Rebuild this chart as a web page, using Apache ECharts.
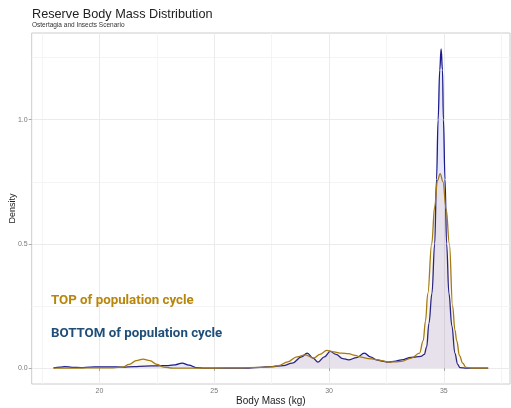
<!DOCTYPE html>
<html>
<head>
<meta charset="utf-8">
<script src="https://cdn.jsdelivr.net/npm/echarts@6/dist/echarts.min.js"></script>
<style>
  html, body { margin: 0; padding: 0; background: #fff; }
  #main { width: 511px; height: 408px; }
</style>
</head>
<body>
<div id="main"></div>
<script>
// bottom of population cycle (blue)
const bottomMass = [18.0, 18.3, 18.5, 18.8, 19.2, 19.6, 20.0, 20.5, 21.0, 21.5, 22.0, 22.5, 23.0, 23.3, 23.6, 23.9, 24.2, 24.6, 25.5, 26.5, 27.0, 27.5, 28.0, 28.4, 28.8, 29.05, 29.3, 29.52, 29.8, 30.05, 30.3, 30.6, 30.85, 31.2, 31.54, 31.8, 32.06, 32.3, 32.58, 32.9, 33.15, 33.58, 34.0, 34.15, 34.25, 34.35, 34.48, 34.6, 34.68, 34.75, 34.82, 34.88, 34.94, 34.98, 35.05, 35.12, 35.22, 35.35, 35.48, 35.6, 35.7, 36.0, 36.93];
const bottomDensity = [0.001, 0.004, 0.006, 0.003, 0.002, 0.004, 0.005, 0.005, 0.004, 0.006, 0.008, 0.009, 0.010, 0.013, 0.020, 0.012, 0.002, 0.0, 0.0, 0.0, 0.003, 0.006, 0.010, 0.020, 0.045, 0.060, 0.040, 0.024, 0.045, 0.067, 0.055, 0.038, 0.033, 0.042, 0.060, 0.045, 0.033, 0.028, 0.024, 0.028, 0.033, 0.043, 0.047, 0.055, 0.085, 0.18, 0.30, 0.50, 0.76, 1.0, 1.2, 1.285, 1.2, 1.0, 0.76, 0.5, 0.3, 0.17, 0.06, 0.015, 0.002, 0, 0];

// top of population cycle (gold)
const topMass = [18.0, 19.0, 20.0, 20.6, 21.0, 21.3, 21.6, 21.9, 22.2, 22.5, 22.8, 23.2, 24.0, 25.0, 26.0, 27.0, 27.5, 27.8, 28.2, 28.6, 28.97, 29.33, 29.6, 29.9, 30.2, 30.55, 30.85, 31.13, 31.4, 31.71, 32.0, 32.3, 32.58, 32.9, 33.15, 33.58, 33.94, 34.1, 34.2, 34.3, 34.47, 34.6, 34.72, 34.84, 34.96, 35.1, 35.24, 35.38, 35.48, 35.56, 35.68, 35.82, 35.96, 36.2, 36.93];
const topDensity = [0.0, 0.0, 0.001, 0.001, 0.004, 0.015, 0.030, 0.036, 0.030, 0.015, 0.004, 0.0, 0.0, 0.0, 0.001, 0.003, 0.005, 0.010, 0.025, 0.045, 0.053, 0.040, 0.055, 0.071, 0.065, 0.060, 0.058, 0.051, 0.044, 0.038, 0.035, 0.030, 0.024, 0.025, 0.027, 0.040, 0.060, 0.11, 0.19, 0.30, 0.50, 0.65, 0.755, 0.783, 0.75, 0.64, 0.50, 0.25, 0.154, 0.11, 0.05, 0.02, 0.003, 0, 0];

const xTicks = [20, 25, 30, 35];
const xMinor = [17.5, 22.5, 27.5, 32.5, 37.5];
const yTicks = [0, 0.5, 1.0];
const yMinor = [0.25, 0.75, 1.25];

const zip = (xs, ys) => xs.map((x, i) => [x, ys[i]]);

let chart = echarts.init(document.getElementById('main'));

const gridLines = [
    ...xMinor.map(v => ({ xAxis: v, lineStyle: { color: '#f4f4f4' } })),
    ...yMinor.map(v => ({ yAxis: v, lineStyle: { color: '#f4f4f4' } })),
    ...xTicks.map(v => ({ xAxis: v, lineStyle: { color: '#ebebeb' } })),
    ...yTicks.map(v => ({ yAxis: v, lineStyle: { color: '#ebebeb' } }))
];

const option = {
    animation: false,
    title: {
        text: 'Reserve Body Mass Distribution',
        subtext: 'Ostertagia and Insects Scenario',
        left: 27,
        top: 3,
        itemGap: 1,
        textStyle: { fontFamily: 'Liberation Sans', fontSize: 12.7, fontWeight: 'normal', color: '#222' },
        subtextStyle: { fontFamily: 'Liberation Sans', fontSize: 6.5, color: '#333' }
    },
    grid: {
        left: 31.7,
        right: 1,
        top: 33,
        bottom: 24,
        containLabel: false,
        outerBoundsMode: 'none',
        show: true,
        borderColor: '#cccccc',
        borderWidth: 1
    },
    xAxis: {
        type: 'value',
        min: 17.05,
        max: 37.88,
        name: 'Body Mass (kg)',
        nameLocation: 'middle',
        nameMoveOverlap: false,
        nameGap: 12,
        nameTextStyle: { fontFamily: 'Liberation Sans', fontSize: 10, color: '#222' },
        axisLine: { show: false },
        axisTick: { show: true, customValues: xTicks, length: 3, lineStyle: { color: '#aaa' } },
        axisLabel: { customValues: xTicks, fontSize: 7, color: '#777', margin: 4, fontFamily: 'Liberation Sans' },
        splitLine: { show: false }
    },
    yAxis: {
        type: 'value',
        min: -0.0643,
        max: 1.349,
        name: 'Density',
        nameLocation: 'middle',
        nameMoveOverlap: false,
        nameGap: 15,
        nameTextStyle: { fontFamily: 'Liberation Sans', fontSize: 9, color: '#222' },
        axisLine: { show: false },
        axisTick: { show: true, customValues: yTicks, length: 3, lineStyle: { color: '#aaa' } },
        axisLabel: {
            customValues: yTicks, fontSize: 7, color: '#777', margin: 4, fontFamily: 'Liberation Sans',
            formatter: v => v.toFixed(1)
        },
        splitLine: { show: false }
    },
    series: [
        {
            name: 'grid',
            type: 'line',
            data: [],
            z: 0,
            silent: true,
            markLine: {
                silent: true,
                z: 0,
                symbol: 'none',
                label: { show: false },
                lineStyle: { type: 'solid', width: 1 },
                data: gridLines
            }
        },
        {
            name: 'BOTTOM of population cycle',
            type: 'line',
            data: zip(bottomMass, bottomDensity),
            z: 3,
            smooth: 0.4,
            smoothMonotone: 'x',
            symbol: 'none',
            lineStyle: { color: '#1c1c8c', width: 1.3 },
            areaStyle: { color: 'rgba(40, 40, 235, 0.16)' }
        },
        {
            name: 'TOP of population cycle',
            type: 'line',
            data: zip(topMass, topDensity),
            z: 4,
            smooth: 0.4,
            smoothMonotone: 'x',
            symbol: 'none',
            lineStyle: { color: '#a47a12', width: 1.3 },
            areaStyle: { color: 'rgba(215, 155, 20, 0.11)' }
        }
    ],
    graphic: [
        {
            type: 'text',
            left: 51,
            top: 294,
            z: 100,
            style: { text: 'TOP of population cycle', fill: '#b8860b', font: 'bold 13.3px Roboto' }
        },
        {
            type: 'text',
            left: 51,
            top: 327,
            z: 100,
            style: { text: 'BOTTOM of population cycle', fill: '#1f4e79', font: 'bold 13.3px Roboto' }
        }
    ]
};

option && chart.setOption(option);
window.addEventListener('resize', chart.resize);
</script>
</body>
</html>
